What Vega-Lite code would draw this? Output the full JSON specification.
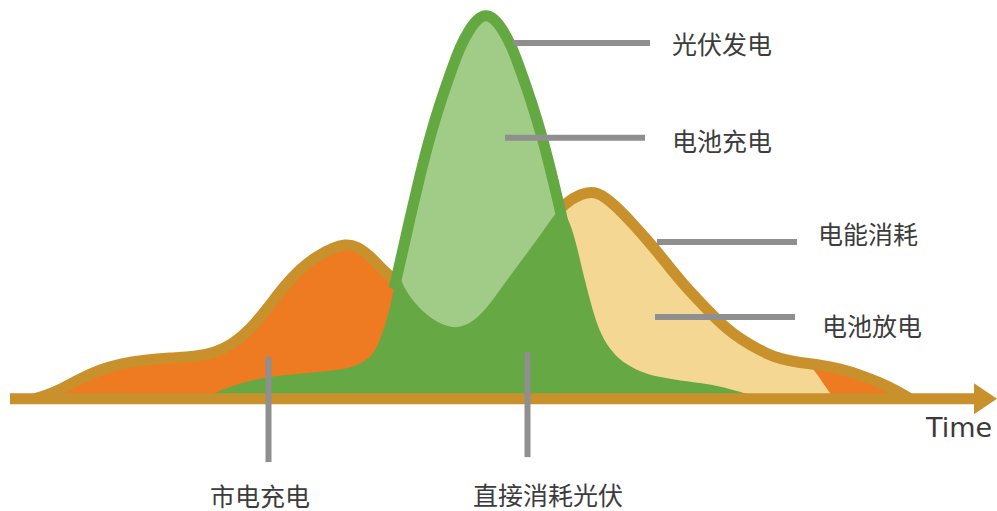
{
  "$schema": "https://vega.github.io/schema/vega-lite/v6.json",
  "width": 997,
  "height": 511,
  "autosize": {"type": "fit", "contains": "padding"},
  "padding": 0,
  "background": "#ffffff",
  "config": {"view": {"stroke": null}},
  "datasets": {
    "consumption": [
      {"t": 35, "v": 0}, {"t": 48, "v": 4}, {"t": 62, "v": 10}, {"t": 80, "v": 20}, {"t": 100, "v": 29},
      {"t": 120, "v": 35}, {"t": 145, "v": 39}, {"t": 170, "v": 41}, {"t": 195, "v": 42}, {"t": 215, "v": 46},
      {"t": 233, "v": 55}, {"t": 250, "v": 69}, {"t": 267, "v": 90}, {"t": 285, "v": 114}, {"t": 300, "v": 130},
      {"t": 317, "v": 143}, {"t": 333, "v": 151}, {"t": 345, "v": 155}, {"t": 357, "v": 153}, {"t": 370, "v": 143},
      {"t": 383, "v": 129}, {"t": 397, "v": 116}, {"t": 420, "v": 109}, {"t": 470, "v": 117}, {"t": 520, "v": 144},
      {"t": 550, "v": 179}, {"t": 565, "v": 196}, {"t": 580, "v": 205}, {"t": 597, "v": 209}, {"t": 617, "v": 192},
      {"t": 633, "v": 175}, {"t": 650, "v": 156}, {"t": 667, "v": 135}, {"t": 683, "v": 115}, {"t": 700, "v": 97},
      {"t": 717, "v": 79}, {"t": 733, "v": 65}, {"t": 750, "v": 54}, {"t": 767, "v": 45}, {"t": 780, "v": 40},
      {"t": 800, "v": 36}, {"t": 820, "v": 34}, {"t": 840, "v": 30}, {"t": 860, "v": 24}, {"t": 880, "v": 16},
      {"t": 895, "v": 9}, {"t": 910, "v": 0}
    ],
    "discharge": [
      {"t": 470, "v": 117}, {"t": 520, "v": 144}, {"t": 550, "v": 179}, {"t": 565, "v": 196}, {"t": 580, "v": 205},
      {"t": 597, "v": 209}, {"t": 617, "v": 192}, {"t": 633, "v": 175}, {"t": 650, "v": 156}, {"t": 667, "v": 135},
      {"t": 683, "v": 115}, {"t": 700, "v": 97}, {"t": 717, "v": 79}, {"t": 733, "v": 65}, {"t": 750, "v": 54},
      {"t": 767, "v": 45}, {"t": 780, "v": 40}, {"t": 800, "v": 36}, {"t": 810, "v": 35}, {"t": 822, "v": 17}, {"t": 834, "v": 0}
    ],
    "pv": [
      {"t": 394, "v": 110}, {"t": 400, "v": 136}, {"t": 410, "v": 181}, {"t": 420, "v": 224}, {"t": 430, "v": 263},
      {"t": 440, "v": 296}, {"t": 450, "v": 325}, {"t": 460, "v": 353}, {"t": 470, "v": 371}, {"t": 478, "v": 381},
      {"t": 486, "v": 385}, {"t": 494, "v": 381}, {"t": 502, "v": 371}, {"t": 512, "v": 353}, {"t": 522, "v": 325},
      {"t": 532, "v": 296}, {"t": 542, "v": 263}, {"t": 552, "v": 224}, {"t": 562, "v": 181}, {"t": 571, "v": 142}
    ],
    "direct": [
      {"t": 203, "v": 0}, {"t": 215, "v": 6}, {"t": 230, "v": 12}, {"t": 250, "v": 18}, {"t": 267, "v": 22},
      {"t": 300, "v": 25}, {"t": 333, "v": 28}, {"t": 350, "v": 31}, {"t": 362, "v": 36}, {"t": 372, "v": 43},
      {"t": 378, "v": 54}, {"t": 383, "v": 67}, {"t": 388, "v": 83}, {"t": 392, "v": 101}, {"t": 396, "v": 119},
      {"t": 399, "v": 125}, {"t": 404, "v": 111}, {"t": 415, "v": 95}, {"t": 430, "v": 81}, {"t": 445, "v": 73},
      {"t": 455, "v": 71}, {"t": 465, "v": 73}, {"t": 478, "v": 81}, {"t": 493, "v": 99}, {"t": 510, "v": 123},
      {"t": 525, "v": 143}, {"t": 538, "v": 161}, {"t": 548, "v": 175}, {"t": 556, "v": 187}, {"t": 563, "v": 188},
      {"t": 570, "v": 177}, {"t": 576, "v": 156}, {"t": 581, "v": 135}, {"t": 586, "v": 114}, {"t": 591, "v": 95},
      {"t": 596, "v": 78}, {"t": 601, "v": 65}, {"t": 607, "v": 54}, {"t": 615, "v": 44}, {"t": 625, "v": 35},
      {"t": 640, "v": 27}, {"t": 657, "v": 22}, {"t": 680, "v": 18}, {"t": 707, "v": 15}, {"t": 730, "v": 10},
      {"t": 750, "v": 4}, {"t": 762, "v": 0}
    ],
    "timeAxis": [{"t": 10, "t2": 976, "v": 0}],
    "arrowHead": [{"t": 974, "v": 15.5, "v2": -15.5}, {"t": 997, "v": 0, "v2": 0}],
    "leaders": [
      {"t": 513, "t2": 650, "v": 356.5, "v2": 356.5},
      {"t": 505, "t2": 645, "v": 261.5, "v2": 261.5},
      {"t": 657, "t2": 797, "v": 157, "v2": 157},
      {"t": 655, "t2": 795, "v": 82, "v2": 82},
      {"t": 268.5, "t2": 268.5, "v": 42, "v2": -63.5},
      {"t": 527.5, "t2": 527.5, "v": 46.5, "v2": -58.5}
    ],
    "sideLabels": [
      {"t": 672, "v": 353, "label": "光伏发电"},
      {"t": 672, "v": 256.5, "label": "电池充电"},
      {"t": 818, "v": 163.5, "label": "电能消耗"},
      {"t": 822, "v": 71, "label": "电池放电"}
    ],
    "bottomLabels": [
      {"t": 260, "v": -99, "label": "市电充电"},
      {"t": 548, "v": -98.5, "label": "直接消耗光伏"}
    ],
    "axisTitle": [{"t": 926, "v": -38.5, "label": "Time"}]
  },
  "encoding": {
    "x": {"field": "t", "type": "quantitative", "scale": {"domain": [0, 997], "nice": false, "zero": false}, "axis": null},
    "y": {"field": "v", "type": "quantitative", "scale": {"domain": [-111.5, 399.5], "nice": false, "zero": false}, "axis": null}
  },
  "layer": [
    {"data": {"name": "consumption"}, "mark": {"type": "area", "interpolate": "basis", "color": "#EE7B22"}, "encoding": {"y2": {"datum": 0}}},
    {"data": {"name": "discharge"}, "mark": {"type": "area", "interpolate": "basis", "color": "#F5D794"}, "encoding": {"y2": {"datum": 0}}},
    {"data": {"name": "consumption"}, "mark": {"type": "line", "interpolate": "basis", "color": "#C8912C", "strokeWidth": 11, "strokeCap": "butt", "strokeJoin": "round"}, "encoding": {}},
    {"data": {"name": "pv"}, "mark": {"type": "area", "interpolate": "basis", "color": "#A0CC87"}, "encoding": {"y2": {"datum": 0}}},
    {"data": {"name": "pv"}, "mark": {"type": "line", "interpolate": "basis", "color": "#64A842", "strokeWidth": 11, "strokeCap": "butt", "strokeJoin": "round"}, "encoding": {}},
    {"data": {"name": "direct"}, "mark": {"type": "area", "interpolate": "basis", "color": "#66A844"}, "encoding": {"y2": {"datum": 0}}},
    {"data": {"name": "timeAxis"}, "mark": {"type": "rule", "color": "#C8912C", "strokeWidth": 11, "strokeCap": "butt"}, "encoding": {"x2": {"field": "t2"}}},
    {"data": {"name": "arrowHead"}, "mark": {"type": "area", "interpolate": "linear", "color": "#C8912C"}, "encoding": {"y2": {"field": "v2"}}},
    {"data": {"name": "leaders"}, "mark": {"type": "rule", "color": "#8F8F8F", "strokeWidth": 6, "strokeCap": "butt"}, "encoding": {"x2": {"field": "t2"}, "y2": {"field": "v2"}}},
    {"data": {"name": "sideLabels"}, "mark": {"type": "text", "align": "left", "baseline": "middle", "font": "Noto Sans CJK SC", "fontSize": 25, "color": "#3C3C3C"}, "encoding": {"text": {"field": "label"}}},
    {"data": {"name": "bottomLabels"}, "mark": {"type": "text", "align": "center", "baseline": "middle", "font": "Noto Sans CJK SC", "fontSize": 25, "color": "#3C3C3C"}, "encoding": {"text": {"field": "label"}}},
    {"data": {"name": "axisTitle"}, "mark": {"type": "text", "align": "left", "baseline": "alphabetic", "font": "DejaVu Sans", "fontSize": 27, "color": "#3A3A3A"}, "encoding": {"text": {"field": "label"}}}
  ]
}
